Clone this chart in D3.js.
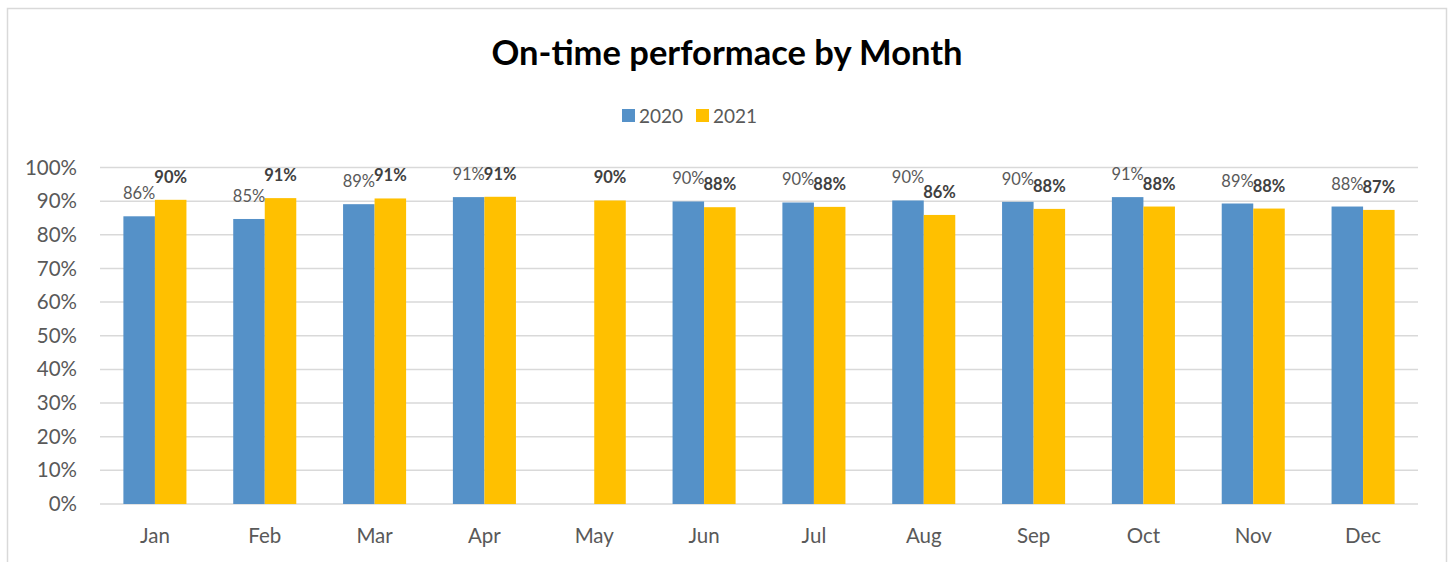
<!DOCTYPE html>
<html>
<head>
<meta charset="utf-8">
<script src="https://cdn.jsdelivr.net/npm/d3@7"></script>
<style>
	body { margin: 0; background: #fff; }
	svg { display: block; font-family: Lato, "Open Sans", sans-serif; }
</style>
</head>
<body>
<svg id="chart" width="1450" height="562"></svg>
<script>
const months = ["Jan", "Feb", "Mar", "Apr", "May", "Jun", "Jul", "Aug", "Sep", "Oct", "Nov", "Dec"];
const series = ["2020", "2021"];
// null = no value for that month
const values_2020 = [0.855, 0.847, 0.891, 0.912, null, 0.899, 0.896, 0.902, 0.898, 0.912, 0.893, 0.884];
const values_2021 = [0.904, 0.909, 0.908, 0.913, 0.902, 0.882, 0.883, 0.859, 0.877, 0.884, 0.878, 0.874];
const y_ticks = [0, 0.1, 0.2, 0.3, 0.4, 0.5, 0.6, 0.7, 0.8, 0.9, 1.0];

const colors = { "2020": "#5591c8", "2021": "#ffc000" };

const svg = d3.select('#chart');

// outer chart frame
svg.append('rect')
	.attr('x', 7.5).attr('y', 8.5)
	.attr('width', 1439).attr('height', 600)
	.attr('fill', 'none')
	.attr('stroke', '#d9d9d9')
	.attr('stroke-width', 1.5);

// title
svg.append('text')
	.attr('x', 727).attr('y', 65)
	.attr('text-anchor', 'middle')
	.style('font-size', '34.5px')
	.style('font-weight', 'bold')
	.style('fill', '#000')
	.text('On-time performace by Month');

const plot = { left: 100, right: 1418, top: 167.5, bottom: 504 };

const x = d3.scaleBand()
	.domain(months)
	.range([plot.left, plot.right])
	.paddingInner(0.426)
	.paddingOuter(0.213);

const x_sub = d3.scaleBand()
	.domain(series)
	.range([0, x.bandwidth()]);

const y = d3.scaleLinear()
	.domain([0, 1])
	.range([plot.bottom, plot.top]);

// gridlines
svg.append('g')
	.selectAll('line')
	.data(y_ticks)
	.enter()
	.append('line')
	.attr('x1', plot.left).attr('x2', plot.right)
	.attr('y1', d => y(d)).attr('y2', d => y(d))
	.attr('stroke', '#d9d9d9')
	.attr('stroke-width', 1.5);

// y axis labels
const y_axis = svg.append('g')
	.attr('transform', `translate(${plot.left}, 0)`)
	.call(d3.axisLeft(y).tickValues(y_ticks).tickFormat(d3.format('.0%')).tickSize(0).tickPadding(23));
y_axis.select('.domain').remove();
y_axis.selectAll('text')
	.style('font-size', '20.5px')
	.style('font-family', 'Lato, sans-serif')
	.style('fill', '#595959');

// x axis labels
const x_axis = svg.append('g')
	.attr('transform', `translate(0, ${plot.bottom})`)
	.call(d3.axisBottom(x).tickSize(0).tickPadding(24));
x_axis.select('.domain').remove();
x_axis.selectAll('text')
	.style('font-size', '20.5px')
	.style('font-family', 'Lato, sans-serif')
	.style('fill', '#595959');

const rows = months.map((m, i) => ({
	month: m,
	items: [
		{ key: "2020", value: values_2020[i] },
		{ key: "2021", value: values_2021[i] }
	].filter(d => d.value !== null)
}));

const groups = svg.append('g')
	.selectAll('g')
	.data(rows)
	.enter()
	.append('g')
	.attr('transform', d => `translate(${x(d.month)}, 0)`);

groups.selectAll('rect')
	.data(d => d.items)
	.enter()
	.append('rect')
	.attr('x', d => x_sub(d.key))
	.attr('y', d => y(d.value))
	.attr('width', x_sub.bandwidth())
	.attr('height', d => y(0) - y(d.value))
	.attr('fill', d => colors[d.key]);

groups.selectAll('text')
	.data(d => d.items)
	.enter()
	.append('text')
	.attr('x', d => x_sub(d.key) + x_sub.bandwidth() / 2)
	.attr('y', d => y(d.value) - 17)
	.attr('text-anchor', 'middle')
	.style('font-size', '16.5px')
	.style('font-weight', d => d.key === "2021" ? 'bold' : 'normal')
	.style('fill', d => d.key === "2021" ? '#404040' : '#595959')
	.text(d => d3.format('.0%')(d.value));

// legend
const legend = svg.append('g')
	.selectAll('g')
	.data(series)
	.enter()
	.append('g')
	.attr('transform', (d, i) => `translate(${622 + i * 74}, 0)`);

legend.append('rect')
	.attr('x', 0).attr('y', 109)
	.attr('width', 13).attr('height', 13)
	.attr('fill', d => colors[d]);

legend.append('text')
	.attr('x', 17).attr('y', 123)
	.style('font-size', '19px')
	.style('fill', '#595959')
	.text(d => d);
</script>
</body>
</html>
